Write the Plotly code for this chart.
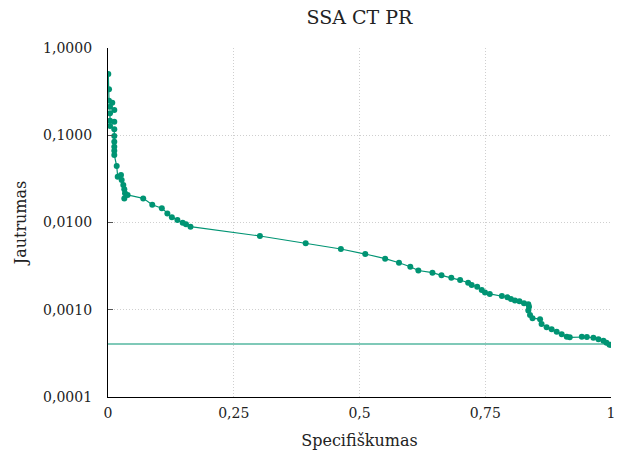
import plotly.graph_objects as go

# Specificity (x) and sensitivity (y)
specificity = [0.0006, 0.002, 0.002, 0.0085, 0.004, 0.0125, 0.004, 0.004, 0.0125, 0.004,
               0.0125, 0.0125, 0.0125, 0.0125, 0.0125, 0.0125, 0.0173, 0.0193, 0.0258, 0.0272,
               0.0304, 0.0324, 0.0338, 0.0324, 0.039, 0.070, 0.088, 0.107, 0.118, 0.127,
               0.138, 0.1485, 0.155, 0.164, 0.302, 0.393, 0.463, 0.5115, 0.551, 0.5785,
               0.601, 0.617, 0.645, 0.663, 0.6825, 0.700, 0.716, 0.723, 0.734, 0.743,
               0.7495, 0.759, 0.783, 0.794, 0.801, 0.809, 0.818, 0.827, 0.8356, 0.837,
               0.8356, 0.839, 0.844, 0.859, 0.862, 0.872, 0.882, 0.892, 0.902, 0.912,
               0.918, 0.942, 0.952, 0.965, 0.975, 0.985, 0.991, 0.997, 1.0]
sensitivity = [0.503, 0.336, 0.249, 0.236, 0.212, 0.195, 0.179, 0.147, 0.143, 0.128,
               0.117, 0.098, 0.0843, 0.0739, 0.0665, 0.0594, 0.0444, 0.0335, 0.035, 0.0307,
               0.0269, 0.0240, 0.0216, 0.0189, 0.0207, 0.0189, 0.0160, 0.0146, 0.0127, 0.0115,
               0.0107, 0.00995, 0.00954, 0.00895, 0.0070, 0.00578, 0.00497, 0.00435, 0.00385, 0.00346,
               0.00311, 0.00282, 0.00266, 0.00248, 0.00233, 0.00219, 0.00204, 0.00192, 0.00184, 0.00168,
               0.00158, 0.00152, 0.00144, 0.00139, 0.00133, 0.00128, 0.00125, 0.00119, 0.00116, 0.00108,
               0.00098, 0.00087, 0.00080, 0.00078, 0.000687, 0.000630, 0.000597, 0.000560, 0.000523, 0.000491,
               0.000483, 0.000491, 0.000487, 0.000478, 0.000459, 0.000442, 0.000419, 0.000398, 0.000398]

baseline_x = [0, 1]
baseline_y = [0.000405, 0.000405]

x_ticks = [0, 0.25, 0.5, 0.75, 1]
x_ticktext = ["0", "0,25", "0,5", "0,75", "1"]
y_ticks = [1, 0.1, 0.01, 0.001, 0.0001]
y_ticktext = ["1,0000", "0,1000", "0,0100", "0,0010", "0,0001"]

color = "#009473"
font_family = "DejaVu Serif"

fig = go.Figure()
fig.add_trace(go.Scatter(x=baseline_x, y=baseline_y, mode="lines",
                         line=dict(color=color, width=1.2), showlegend=False))
fig.add_trace(go.Scatter(x=specificity, y=sensitivity, mode="lines+markers",
                         line=dict(color=color, width=1.2),
                         marker=dict(color=color, size=6), showlegend=False))

fig.update_layout(
    width=625, height=457,
    margin=dict(l=108, r=14, t=48, b=60, autoexpand=False),
    paper_bgcolor="white", plot_bgcolor="white",
    font=dict(family=font_family, size=14, color="#222"),
    title=dict(text="SSA CT PR", x=(108 + 611) / 2 / 625, xanchor="center",
               y=1 - 17 / 457, yanchor="middle", font=dict(size=19)),
)
fig.update_xaxes(
    range=[0, 1], tickvals=x_ticks, ticktext=x_ticktext, automargin=False,
    showline=True, linecolor="black", linewidth=1.3, mirror=False,
    showgrid=True, gridcolor="#cfcfcf", griddash="1px,2px", gridwidth=1,
    zeroline=False, ticks="", ticklen=4, ticklabelstandoff=3,
    title=dict(text="Specifiškumas", standoff=14, font=dict(size=16)),
)
fig.update_yaxes(
    type="log", range=[-4, 0], tickvals=y_ticks, ticktext=y_ticktext, automargin=False,
    showline=True, linecolor="black", linewidth=1.3, mirror=False,
    showgrid=True, gridcolor="#cfcfcf", griddash="1px,2px", gridwidth=1,
    zeroline=False, ticks="inside", ticklen=5, tickcolor="#555",
    ticklabelstandoff=12,
    title=dict(text="Jautrumas", standoff=12, font=dict(size=16)),
)

fig.write_html("out.html")
